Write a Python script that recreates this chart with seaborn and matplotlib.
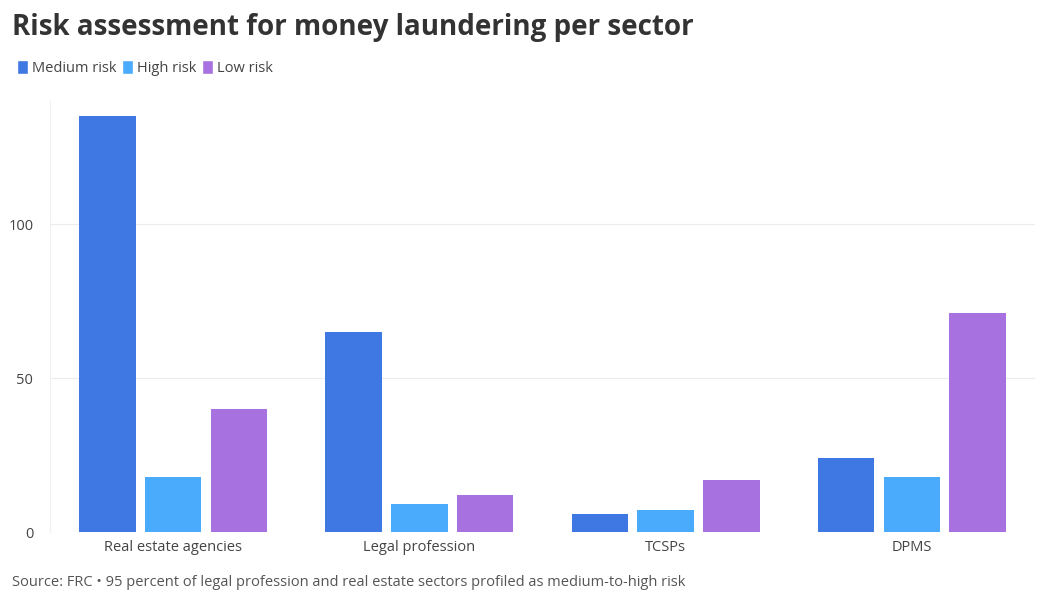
import matplotlib
matplotlib.use("Agg")
import matplotlib.pyplot as plt
from matplotlib.patches import Patch
import seaborn as sns
import pandas as pd

sectors = ["Real estate agencies", "Legal profession", "TCSPs", "DPMS"]
risk_levels = ["Medium risk", "High risk", "Low risk"]
medium = [135, 65, 6, 24]
high = [18, 9, 7, 18]
low = [40, 12, 17, 71]
colors = ["#3F77E3", "#4AABFC", "#A772E0"]

df = pd.DataFrame({
    "sector": sectors * 3,
    "risk": [r for r in risk_levels for _ in sectors],
    "value": medium + high + low,
})

sns.set_theme(style="white")
plt.rcParams["font.family"] = ["Open Sans", "DejaVu Sans"]

fig = plt.figure(figsize=(10.5, 6), dpi=100)
ax = fig.add_axes([50 / 1050, 68 / 600, 985 / 1050, 431 / 600])

sns.barplot(data=df, x="sector", y="value", hue="risk", order=sectors,
            hue_order=risk_levels, palette=colors, width=0.8, gap=0.14,
            saturation=1, linewidth=0, ax=ax, legend=False)

ax.set_xlim(-0.5, 3.5)
ax.set_ylim(0, 140)
ax.set_yticks([0, 50, 100])
ax.grid(axis="y", color="#ececec", linewidth=0.8)
ax.set_axisbelow(True)
for s in ["top", "right", "bottom"]:
    ax.spines[s].set_visible(False)
ax.spines["left"].set_color("#f0f0f0")
ax.spines["left"].set_linewidth(0.8)
ax.set_xlabel("")
ax.set_ylabel("")
ax.tick_params(axis="both", length=0, labelsize=10.5, colors="#444444")
ax.tick_params(axis="y", pad=12)
ax.tick_params(axis="x", pad=6)

fig.text(0.011, 0.955, "Risk assessment for money laundering per sector",
         fontsize=20, fontweight="bold", color="#333333", va="center")

handles = [Patch(facecolor=c, label=l) for c, l in zip(colors, risk_levels)]
fig.legend(handles=handles, loc="center left", bbox_to_anchor=(0.004, 0.887),
           ncol=3, frameon=False, fontsize=10.5, handlelength=0.75,
           handleheight=1.1, handletextpad=0.25, columnspacing=0.4,
           labelcolor="#444444")

fig.text(0.011, 0.029,
         "Source: FRC \u2022 95 percent of legal profession and real estate sectors profiled as medium-to-high risk",
         fontsize=10.5, color="#555555", va="center")

fig.savefig("out.png", dpi=100)
